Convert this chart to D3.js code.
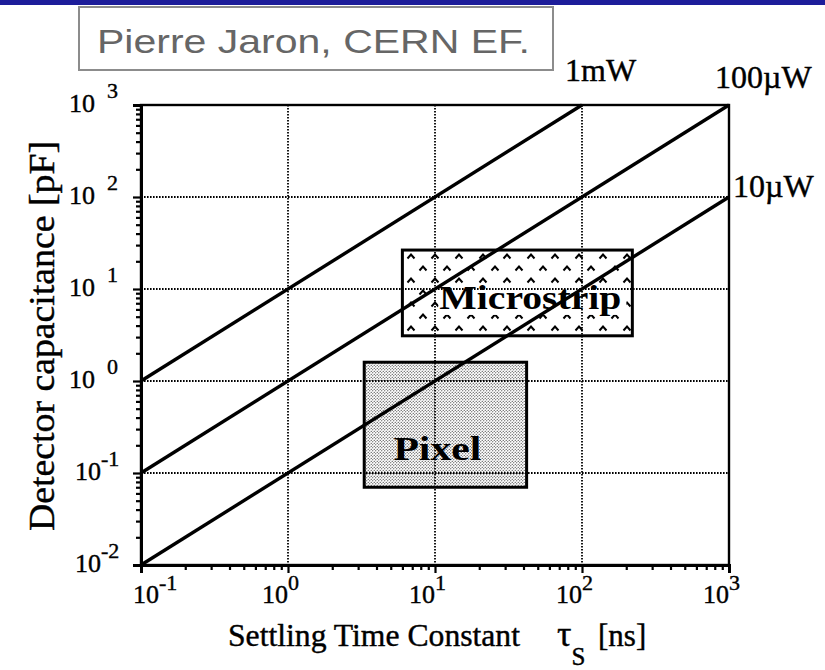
<!DOCTYPE html>
<meta charset="utf-8">
<style>
body { margin: 0; background: #fff; }
svg { display: block; font-family: "Liberation Serif", "DejaVu Serif", serif; }
.grid line { stroke: #000; stroke-width: 1.8; stroke-dasharray: 1.6,1.4; }
.axis path, .axis line { stroke: #000; }
.axis path { stroke-width: 3; }
.axis line { stroke-width: 2.2; }
.power { fill: none; stroke: #000; stroke-width: 3.4; }
.ink { stroke: #000; stroke-width: 0.4; }
.tick-label { font-size: 26px; }
.sup { font-size: 22px; }
</style>
<svg width="825" height="670"></svg>
<script src="https://d3js.org/d3.v7.min.js"></script>
<script>

// decades on both axes
var xTicks = [0.1, 1, 10, 100, 1000];
var yTicks = [0.01, 0.1, 1, 10, 100, 1000];

// constant-power lines  [tau (ns), C (pF)]
var powerLabels = ["1mW", "100\u00b5W", "10\u00b5W"];
var line1mW   = [[0.1, 1],    [100, 1000]];
var line100uW = [[0.1, 0.1],  [1000, 1000]];
var line10uW  = [[0.1, 0.01], [1000, 100]];

// detector regions
var microstripTau = [6, 220];
var microstripCap = [3.1, 26.5];
var pixelTau = [3.3, 42];
var pixelCap = [0.07, 1.6];

var svg = d3.select("svg"),
    margin = {top: 105, right: 96, bottom: 105, left: 141},
    width = +svg.attr("width") - margin.left - margin.right,
    height = +svg.attr("height") - margin.top - margin.bottom;

var x = d3.scaleLog().domain([0.1, 1000]).range([0, width]);
var y = d3.scaleLog().domain([0.01, 1000]).range([height, 0]);

// blue band + title box
svg.append("rect").attr("x", 0).attr("y", 0).attr("width", 825).attr("height", 5).attr("fill", "#1d1d9a");
svg.append("rect").attr("x", 79).attr("y", 7).attr("width", 474).attr("height", 63)
    .attr("fill", "#fff").attr("stroke", "#8c8c8c").attr("stroke-width", 2);
svg.append("text")
    .attr("x", 97).attr("y", 53)
    .attr("textLength", 433).attr("lengthAdjust", "spacingAndGlyphs")
    .style("font-family", "'Liberation Sans', Arial, sans-serif")
    .style("font-size", "33px")
    .attr("fill", "#666")
    .text("Pierre Jaron, CERN EF.");

var defs = svg.append("defs");

var dots = defs.append("pattern").attr("id", "dots")
    .attr("patternUnits", "userSpaceOnUse").attr("width", 3).attr("height", 3);
dots.append("rect").attr("width", 3).attr("height", 3).attr("fill", "#fff");
dots.append("circle").attr("cx", 0.75).attr("cy", 0.75).attr("r", 0.62).attr("fill", "#222");
dots.append("circle").attr("cx", 2.25).attr("cy", 2.25).attr("r", 0.62).attr("fill", "#222");

var carets = defs.append("pattern").attr("id", "carets")
    .attr("patternUnits", "userSpaceOnUse").attr("width", 24).attr("height", 24);
carets.append("rect").attr("width", 24).attr("height", 24).attr("fill", "#fff");
carets.append("path").attr("d", "M2.5,9.5 L6,5.5 L9.5,9.5 M14.5,21.5 L18,17.5 L21.5,21.5")
    .attr("fill", "none").attr("stroke", "#000").attr("stroke-width", 2);

var g = svg.append("g")
    .attr("transform", "translate(" + margin.left + "," + margin.top + ")");

// region boxes
function region(tau, cap, fill) {
  g.append("rect")
    .attr("x", x(tau[0])).attr("y", y(cap[1]))
    .attr("width", x(tau[1]) - x(tau[0]))
    .attr("height", y(cap[0]) - y(cap[1]))
    .attr("fill", fill).attr("stroke", "#000").attr("stroke-width", 3);
}
region(microstripTau, microstripCap, "url(#carets)");
region(pixelTau, pixelCap, "url(#dots)");

// knockout behind the microstrip label
var msCx = (x(microstripTau[0]) + x(microstripTau[1])) / 2 + 15;
var msCy = (y(microstripCap[0]) + y(microstripCap[1])) / 2;
g.append("rect").attr("x", msCx - 94).attr("y", msCy - 6).attr("width", 188).attr("height", 28).attr("fill", "#fff");

// dotted decade grid
var grid = g.append("g").attr("class", "grid");
grid.selectAll(".gx").data(xTicks.slice(1, -1)).enter().append("line")
    .attr("x1", d => x(d)).attr("x2", d => x(d)).attr("y1", 0).attr("y2", height);
grid.selectAll(".gy").data(yTicks.slice(1, -1)).enter().append("line")
    .attr("y1", d => y(d)).attr("y2", d => y(d)).attr("x1", 0).attr("x2", width);

// frame
g.append("rect").attr("width", width).attr("height", height)
    .attr("fill", "none").attr("stroke", "#000").attr("stroke-width", 2.4);

// axes: minor ticks outward, decade ticks longer
var minorX = [], minorY = [];
x.ticks().forEach(function(t) { if (xTicks.indexOf(t) < 0) minorX.push(t); });
y.ticks().forEach(function(t) { if (yTicks.indexOf(t) < 0) minorY.push(t); });

g.append("g").attr("class", "axis").attr("transform", "translate(0," + height + ")")
    .call(d3.axisBottom(x).tickValues(minorX).tickSize(5).tickFormat(""));
g.append("g").attr("class", "axis").attr("transform", "translate(0," + height + ")")
    .call(d3.axisBottom(x).tickValues(xTicks).tickSize(8).tickFormat(""));
g.append("g").attr("class", "axis")
    .call(d3.axisLeft(y).tickValues(minorY).tickSize(5).tickFormat(""));
g.append("g").attr("class", "axis")
    .call(d3.axisLeft(y).tickValues(yTicks).tickSize(8).tickFormat(""));

// tick labels 10^n
function exp(d) { return Math.round(Math.log10(d)); }

var xl = g.selectAll(".xl").data(xTicks).enter().append("text")
    .attr("class", "tick-label ink")
    .attr("y", height + 38);
xl.append("tspan").attr("x", (d, i) => x(d) + (i === 0 ? 18 : 0)).attr("text-anchor", "end").text("10");
xl.append("tspan").attr("class", "sup").attr("dy", -13)
    .attr("x", (d, i) => x(d) + (i === 0 ? 18 : 0)).text(d => exp(d));

var yl = g.selectAll(".yl").data(yTicks).enter().append("text")
    .attr("class", "tick-label ink")
    .attr("y", d => y(d) + 7);
yl.append("tspan").attr("x", d => exp(d) < 0 ? -40 : -46).attr("text-anchor", "end").text("10");
yl.append("tspan").attr("class", "sup").attr("dy", -14)
    .attr("x", d => exp(d) < 0 ? -40 : -34).text(d => exp(d));

// power lines
var line = d3.line().x(d => x(d[0])).y(d => y(d[1]));
var powerLines = [line1mW, line100uW, line10uW];
g.selectAll(".power").data(powerLines).enter().append("path")
    .attr("class", "power").attr("d", line);

var labelOffsets = [[-17, -24], [-14, -17], [4, 0]];
g.selectAll(".plabel").data(powerLines).enter().append("text")
    .attr("class", "ink")
    .attr("x", (d, i) => x(d[1][0]) + labelOffsets[i][0])
    .attr("y", (d, i) => y(d[1][1]) + labelOffsets[i][1])
    .style("font-size", "32px")
    .text((d, i) => powerLabels[i]);

// region labels
g.append("text")
    .attr("x", msCx - 2).attr("y", msCy + 16)
    .attr("text-anchor", "middle")
    .attr("textLength", 182).attr("lengthAdjust", "spacingAndGlyphs")
    .style("font-size", "33px").style("font-weight", "bold")
    .text("Microstrip");
g.append("text")
    .attr("x", (x(pixelTau[0]) + x(pixelTau[1])) / 2 - 8)
    .attr("y", y(pixelCap[0]) - 27)
    .attr("text-anchor", "middle")
    .attr("textLength", 88).attr("lengthAdjust", "spacingAndGlyphs")
    .style("font-size", "33px").style("font-weight", "bold")
    .text("Pixel");

// axis titles
svg.append("text")
    .attr("class", "ink")
    .attr("transform", "translate(54,336) rotate(-90)")
    .attr("text-anchor", "middle")
    .attr("textLength", 390).attr("lengthAdjust", "spacingAndGlyphs")
    .style("font-size", "35px")
    .text("Detector capacitance [pF]");

var xt = svg.append("text").attr("class", "ink").attr("y", 646).style("font-size", "31px");
xt.append("tspan").attr("x", 228).attr("textLength", 292).attr("lengthAdjust", "spacingAndGlyphs")
    .text("Settling Time Constant");
xt.append("tspan").attr("x", 557).style("font-size", "36px").text("\u03c4");
xt.append("tspan").attr("dy", 19).style("font-size", "25px").text("S");
xt.append("tspan").attr("x", 598).attr("dy", -19).text("[ns]");

</script>
